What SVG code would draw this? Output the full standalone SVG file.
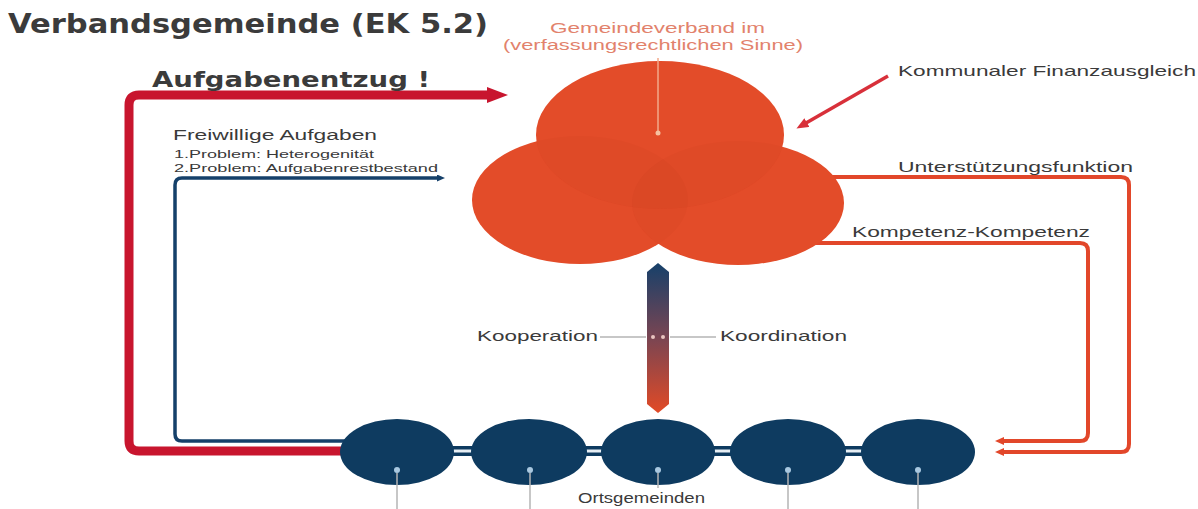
<svg xmlns="http://www.w3.org/2000/svg" width="1198" height="509" viewBox="0 0 1198 509">
<defs>
<style>
.t{font-family:"Liberation Sans",Arial,sans-serif;fill:#3a3a3a}
.b{font-family:"DejaVu Sans","Liberation Sans",sans-serif;font-weight:bold;fill:#3b3b3b}
.or{font-family:"Liberation Sans",Arial,sans-serif;fill:#e2826c}
.red{fill:none;stroke:#c8152e;stroke-width:9;stroke-linejoin:round}
.blue{fill:none;stroke:#15406a;stroke-width:3.5;stroke-linejoin:round}
.org{fill:none;stroke:#e2472a;stroke-width:4;stroke-linejoin:round}
.lobe{fill:#e84f2b}
.shade{fill:#7a1800;fill-opacity:0.04}
.oc{fill:#0e3b60}
.dot{fill:#a9c8e0}
.thin{stroke:#b5b5b5;stroke-width:1.5}
</style>
<marker id="ahRed" markerWidth="24" markerHeight="18" refX="3" refY="8" orient="auto" markerUnits="userSpaceOnUse"><path d="M0,0 L21,8 L0,16 z" fill="#c8152e"/></marker>
<marker id="ahBlue" markerWidth="10" markerHeight="8" refX="1" refY="3.5" orient="auto" markerUnits="userSpaceOnUse"><path d="M0,0 L8,3.5 L0,7 z" fill="#15406a"/></marker>
<marker id="ahOrg" markerWidth="11" markerHeight="9" refX="1" refY="4" orient="auto" markerUnits="userSpaceOnUse"><path d="M0,0 L9,4 L0,8 z" fill="#e2472a"/></marker>
<marker id="ahK" markerWidth="14" markerHeight="12" refX="1" refY="5" orient="auto" markerUnits="userSpaceOnUse"><path d="M0,0 L12,5 L0,10 z" fill="#d8303a"/></marker>
<linearGradient id="bar" x1="0" y1="0" x2="0" y2="1">
<stop offset="0" stop-color="#16406a"/>
<stop offset="0.5" stop-color="#7a4552"/>
<stop offset="1" stop-color="#e24a26"/>
</linearGradient>
</defs>

<text class="b" x="8" y="33" font-size="26" textLength="480" lengthAdjust="spacingAndGlyphs">Verbandsgemeinde (EK 5.2)</text>

<g id="connectors">
<path class="red" d="M345,451 H139 Q129,451 129,441 V105 Q129,95 139,95 H490" marker-end="url(#ahRed)"/>
<path class="blue" d="M345,441 H182 Q175,441 175,434 V185 Q175,178 182,178 H438" marker-end="url(#ahBlue)"/>
<path class="org" d="M830,177 H1121 Q1129,177 1129,185 V444 Q1129,452 1121,452 H1003" marker-end="url(#ahOrg)"/>
<path class="org" d="M800,243 H1080 Q1088,243 1088,251 V433 Q1088,441 1080,441 H1003" marker-end="url(#ahOrg)"/>
<line x1="888" y1="76" x2="806" y2="123" stroke="#d8303a" stroke-width="3.5" marker-end="url(#ahK)"/>
</g>

<g id="labels-left">
<text class="b" x="152" y="87" font-size="21" textLength="278" lengthAdjust="spacingAndGlyphs">Aufgabenentzug !</text>
<text class="t" x="173" y="140" font-size="14" textLength="204" lengthAdjust="spacingAndGlyphs">Freiwillige Aufgaben</text>
<text class="t" x="174" y="158" font-size="11" textLength="200" lengthAdjust="spacingAndGlyphs">1.Problem: Heterogenität</text>
<text class="t" x="174" y="172" font-size="11" textLength="264" lengthAdjust="spacingAndGlyphs">2.Problem: Aufgabenrestbestand</text>
</g>

<g id="labels-right">
<text class="t" x="898" y="76" font-size="15" textLength="298" lengthAdjust="spacingAndGlyphs">Kommunaler Finanzausgleich</text>
<text class="t" x="898" y="172" font-size="15" textLength="235" lengthAdjust="spacingAndGlyphs">Unterstützungsfunktion</text>
<text class="t" x="852" y="237" font-size="15" textLength="238" lengthAdjust="spacingAndGlyphs">Kompetenz-Kompetenz</text>
</g>

<g id="gemeindeverband">
<ellipse class="lobe" cx="580" cy="200" rx="108" ry="64"/>
<ellipse class="lobe" cx="738" cy="203" rx="106" ry="62"/>
<ellipse class="lobe" cx="660" cy="135" rx="124" ry="74"/>
<ellipse class="shade" cx="580" cy="200" rx="108" ry="64"/>
<ellipse class="shade" cx="738" cy="203" rx="106" ry="62"/>
<ellipse class="shade" cx="660" cy="135" rx="124" ry="74"/>
<text class="or" x="550" y="33" font-size="14" textLength="215" lengthAdjust="spacingAndGlyphs">Gemeindeverband im</text>
<text class="or" x="503" y="50" font-size="14" textLength="300" lengthAdjust="spacingAndGlyphs">(verfassungsrechtlichen Sinne)</text>
<line x1="658" y1="58" x2="658" y2="132" stroke="#f2a88a" stroke-width="1.5"/>
<circle cx="658" cy="133" r="2.5" fill="#f6c1a0"/>
</g>

<g id="verbindung">
<path d="M647,272 L658,263 L669,272 V404 L658,413 L647,404 Z" fill="url(#bar)"/>
<line class="thin" x1="600" y1="337" x2="646" y2="337" stroke-width="1"/>
<line class="thin" x1="670" y1="337" x2="716" y2="337" stroke-width="1"/>
<circle cx="653" cy="337" r="2" fill="#e8c4c0"/>
<circle cx="663" cy="337" r="2" fill="#e8c4c0"/>
<text class="t" x="477" y="341" font-size="15" textLength="121" lengthAdjust="spacingAndGlyphs">Kooperation</text>
<text class="t" x="720" y="341" font-size="15" textLength="127" lengthAdjust="spacingAndGlyphs">Koordination</text>
</g>

<g id="ortsgemeinden">
<rect x="450" y="446" width="25" height="10" fill="#0e3b60"/>
<rect x="450" y="449.5" width="25" height="3" fill="#e6eef4"/>
<rect x="582" y="446" width="25" height="10" fill="#0e3b60"/>
<rect x="582" y="449.5" width="25" height="3" fill="#e6eef4"/>
<rect x="710" y="446" width="25" height="10" fill="#0e3b60"/>
<rect x="710" y="449.5" width="25" height="3" fill="#e6eef4"/>
<rect x="841" y="446" width="25" height="10" fill="#0e3b60"/>
<rect x="841" y="449.5" width="25" height="3" fill="#e6eef4"/>
<g id="og1"><ellipse class="oc" cx="397" cy="452" rx="57" ry="33"/><circle class="dot" cx="397" cy="470" r="3"/><line class="thin" x1="397" y1="473" x2="397" y2="509"/></g>
<g id="og2"><ellipse class="oc" cx="529" cy="452" rx="58" ry="33"/><circle class="dot" cx="530" cy="470" r="3"/><line class="thin" x1="530" y1="473" x2="530" y2="509"/></g>
<g id="og3"><ellipse class="oc" cx="658" cy="452" rx="57" ry="33"/><circle class="dot" cx="658" cy="470" r="3"/><line class="thin" x1="658" y1="473" x2="658" y2="488"/></g>
<g id="og4"><ellipse class="oc" cx="788" cy="452" rx="58" ry="33"/><circle class="dot" cx="788" cy="470" r="3"/><line class="thin" x1="788" y1="473" x2="788" y2="509"/></g>
<g id="og5"><ellipse class="oc" cx="918" cy="452" rx="57" ry="33"/><circle class="dot" cx="918" cy="470" r="3"/><line class="thin" x1="918" y1="473" x2="918" y2="509"/></g>
<text class="t" x="578" y="503" font-size="15" textLength="127" lengthAdjust="spacingAndGlyphs">Ortsgemeinden</text>
</g>
</svg>
